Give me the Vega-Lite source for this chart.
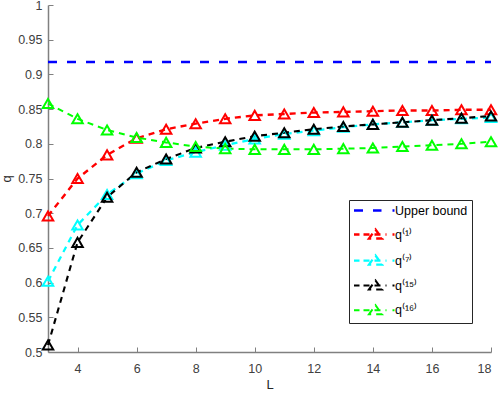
{
  "$schema": "https://vega.github.io/schema/vega-lite/v6.json",
  "width": 443,
  "height": 347,
  "autosize": "none",
  "padding": {"left": 48, "top": 5, "right": 7, "bottom": 42},
  "background": "white",
  "config": {
    "view": {"stroke": null},
    "font": "Liberation Sans",
    "axis": {
      "grid": false,
      "domainColor": "#808080",
      "domainWidth": 1.5,
      "tickColor": "#808080",
      "tickWidth": 1,
      "tickSize": -5,
      "labelColor": "#404040",
      "labelFont": "Liberation Sans",
      "labelFontSize": 12.5,
      "titleFont": "Liberation Sans",
      "titleFontSize": 13,
      "titleFontWeight": "normal",
      "titleColor": "#262626"
    }
  },
  "data": {
    "values": [
      {"L": 3, "series": "Upper bound", "q": 0.918},
      {"L": 18, "series": "Upper bound", "q": 0.918},
      {"L": 3, "series": "q⁽¹⁾", "q": 0.696},
      {"L": 4, "series": "q⁽¹⁾", "q": 0.750},
      {"L": 5, "series": "q⁽¹⁾", "q": 0.784},
      {"L": 6, "series": "q⁽¹⁾", "q": 0.808},
      {"L": 7, "series": "q⁽¹⁾", "q": 0.821},
      {"L": 8, "series": "q⁽¹⁾", "q": 0.829},
      {"L": 9, "series": "q⁽¹⁾", "q": 0.836},
      {"L": 10, "series": "q⁽¹⁾", "q": 0.841},
      {"L": 11, "series": "q⁽¹⁾", "q": 0.843},
      {"L": 12, "series": "q⁽¹⁾", "q": 0.845},
      {"L": 13, "series": "q⁽¹⁾", "q": 0.846},
      {"L": 14, "series": "q⁽¹⁾", "q": 0.847},
      {"L": 15, "series": "q⁽¹⁾", "q": 0.848},
      {"L": 16, "series": "q⁽¹⁾", "q": 0.848},
      {"L": 17, "series": "q⁽¹⁾", "q": 0.849},
      {"L": 18, "series": "q⁽¹⁾", "q": 0.849},
      {"L": 3, "series": "q⁽⁷⁾", "q": 0.602},
      {"L": 4, "series": "q⁽⁷⁾", "q": 0.683},
      {"L": 5, "series": "q⁽⁷⁾", "q": 0.727},
      {"L": 6, "series": "q⁽⁷⁾", "q": 0.757},
      {"L": 7, "series": "q⁽⁷⁾", "q": 0.776},
      {"L": 8, "series": "q⁽⁷⁾", "q": 0.788},
      {"L": 9, "series": "q⁽⁷⁾", "q": 0.798},
      {"L": 10, "series": "q⁽⁷⁾", "q": 0.807},
      {"L": 11, "series": "q⁽⁷⁾", "q": 0.814},
      {"L": 12, "series": "q⁽⁷⁾", "q": 0.819},
      {"L": 13, "series": "q⁽⁷⁾", "q": 0.824},
      {"L": 14, "series": "q⁽⁷⁾", "q": 0.828},
      {"L": 15, "series": "q⁽⁷⁾", "q": 0.831},
      {"L": 16, "series": "q⁽⁷⁾", "q": 0.834},
      {"L": 17, "series": "q⁽⁷⁾", "q": 0.836},
      {"L": 18, "series": "q⁽⁷⁾", "q": 0.838},
      {"L": 3, "series": "q⁽¹⁵⁾", "q": 0.510},
      {"L": 4, "series": "q⁽¹⁵⁾", "q": 0.658},
      {"L": 5, "series": "q⁽¹⁵⁾", "q": 0.723},
      {"L": 6, "series": "q⁽¹⁵⁾", "q": 0.759},
      {"L": 7, "series": "q⁽¹⁵⁾", "q": 0.778},
      {"L": 8, "series": "q⁽¹⁵⁾", "q": 0.794},
      {"L": 9, "series": "q⁽¹⁵⁾", "q": 0.803},
      {"L": 10, "series": "q⁽¹⁵⁾", "q": 0.811},
      {"L": 11, "series": "q⁽¹⁵⁾", "q": 0.816},
      {"L": 12, "series": "q⁽¹⁵⁾", "q": 0.821},
      {"L": 13, "series": "q⁽¹⁵⁾", "q": 0.825},
      {"L": 14, "series": "q⁽¹⁵⁾", "q": 0.828},
      {"L": 15, "series": "q⁽¹⁵⁾", "q": 0.831},
      {"L": 16, "series": "q⁽¹⁵⁾", "q": 0.834},
      {"L": 17, "series": "q⁽¹⁵⁾", "q": 0.837},
      {"L": 18, "series": "q⁽¹⁵⁾", "q": 0.840},
      {"L": 3, "series": "q⁽¹⁶⁾", "q": 0.858},
      {"L": 4, "series": "q⁽¹⁶⁾", "q": 0.836},
      {"L": 5, "series": "q⁽¹⁶⁾", "q": 0.820},
      {"L": 6, "series": "q⁽¹⁶⁾", "q": 0.809},
      {"L": 7, "series": "q⁽¹⁶⁾", "q": 0.802},
      {"L": 8, "series": "q⁽¹⁶⁾", "q": 0.796},
      {"L": 9, "series": "q⁽¹⁶⁾", "q": 0.793},
      {"L": 10, "series": "q⁽¹⁶⁾", "q": 0.792},
      {"L": 11, "series": "q⁽¹⁶⁾", "q": 0.792},
      {"L": 12, "series": "q⁽¹⁶⁾", "q": 0.792},
      {"L": 13, "series": "q⁽¹⁶⁾", "q": 0.793},
      {"L": 14, "series": "q⁽¹⁶⁾", "q": 0.794},
      {"L": 15, "series": "q⁽¹⁶⁾", "q": 0.796},
      {"L": 16, "series": "q⁽¹⁶⁾", "q": 0.798},
      {"L": 17, "series": "q⁽¹⁶⁾", "q": 0.800},
      {"L": 18, "series": "q⁽¹⁶⁾", "q": 0.803}
    ]
  },
  "encoding": {
    "x": {
      "field": "L", "type": "quantitative",
      "scale": {"domain": [3, 18], "nice": false, "zero": false},
      "axis": {"values": [4, 6, 8, 10, 12, 14, 16, 18], "title": "L", "labelPadding": 15, "titlePadding": 4}
    },
    "y": {
      "field": "q", "type": "quantitative",
      "scale": {"domain": [0.5, 1], "nice": false, "zero": false},
      "axis": {"values": [0.5, 0.55, 0.6, 0.65, 0.7, 0.75, 0.8, 0.85, 0.9, 0.95, 1], "format": "~g", "title": "q", "labelPadding": 11, "titlePadding": 4}
    },
    "color": {
      "field": "series", "type": "nominal",
      "scale": {
        "domain": ["Upper bound", "q⁽¹⁾", "q⁽⁷⁾", "q⁽¹⁵⁾", "q⁽¹⁶⁾"],
        "range": ["#0000ff", "#ff0000", "#00ffff", "#000000", "#00ff00"]
      },
      "legend": {
        "orient": "none",
        "legendX": 301,
        "legendY": 195,
        "title": null,
        "padding": 4,
        "strokeColor": "#262626",
        "fillColor": "white",
        "labelFont": "Liberation Sans",
        "labelFontSize": 12.5,
        "labelColor": "#000000",
        "symbolSize": 100,
        "symbolStrokeWidth": 2,
        "symbolOffset": 16,
        "labelOffset": 13,
        "rowPadding": 7,
        "symbolType": "circle",
        "encode": {
          "symbols": {
            "update": {
              "shape": {"signal": "datum.value === 'Upper bound' ? 'M-4.3,0H-2.5M-0.5,0H1.2M3.4,0H3.8' : 'M-4.3,0H-3.2M-2.4,0H2.2M3.4,0H3.8M-1.3,0.8L0,-1L1.3,0.8Z'"},
              "strokeDash": {"value": []},
              "strokeWidth": {"signal": "datum.value === 'Upper bound' ? 2.5 : 2"},
              "fill": {"value": "transparent"}
            }
          }
        }
      }
    }
  },
  "layer": [
    {
      "mark": {"type": "line"},
      "encoding": {
        "strokeDash": {
          "field": "series", "type": "nominal",
          "scale": {
            "domain": ["Upper bound", "q⁽¹⁾", "q⁽⁷⁾", "q⁽¹⁵⁾", "q⁽¹⁶⁾"],
            "range": [[9, 10], [6, 5], [6, 5], [6, 5], [6, 5]]
          },
          "legend": null
        },
        "strokeWidth": {
          "field": "series", "type": "nominal",
          "scale": {
            "domain": ["Upper bound", "q⁽¹⁾", "q⁽⁷⁾", "q⁽¹⁵⁾", "q⁽¹⁶⁾"],
            "range": [2.5, 2, 2, 2, 2]
          },
          "legend": null
        }
      }
    },
    {
      "transform": [{"filter": "datum.series !== 'Upper bound'"}],
      "mark": {"type": "point", "shape": "triangle-up", "filled": false, "strokeWidth": 2, "size": 110, "opacity": 1}
    }
  ]
}
